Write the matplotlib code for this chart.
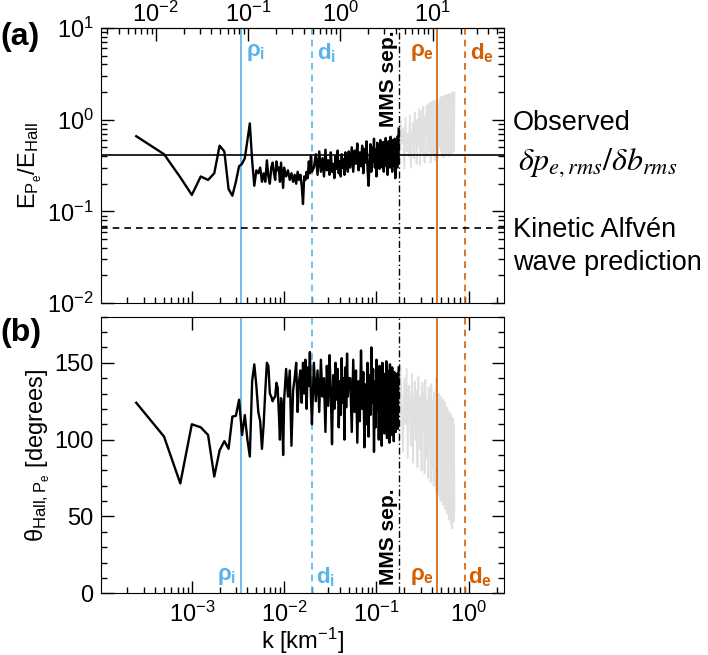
import matplotlib.pyplot as plt
import numpy as np
from matplotlib.ticker import MultipleLocator, FixedLocator

plt.rcParams['font.family'] = ['Liberation Sans', 'DejaVu Sans']
plt.rcParams['mathtext.fontset'] = 'custom'
plt.rcParams['mathtext.rm'] = 'Liberation Sans'
plt.rcParams['mathtext.it'] = 'Liberation Sans:italic'
plt.rcParams['mathtext.bf'] = 'Liberation Sans:bold'

# wavenumber bins, in units of 1e-3 km^-1 (black part, below MMS separation)
k_black_milli = [0.25, 0.5, 0.75, 1.0, 1.25, 1.5, 1.75, 2.0, 2.25, 2.5,
                 2.75, 3.0, 3.25, 3.5, 3.75, 4.0, 4.25, 4.5, 4.75, 5.0,
                 5.25, 5.5, 5.75, 6.0, 6.25, 6.5, 6.75, 7.0, 7.25, 7.5,
                 7.75, 8.0, 8.25, 8.5, 8.75, 9.0, 9.25, 9.5, 9.75, 10.0,
                 10.5, 11, 11.5, 12, 12.5, 13, 13.5, 14, 14.5, 15,
                 15.5, 16, 16.5, 17, 17.5, 18, 18.5, 19, 19.5, 20,
                 21, 22, 23, 24, 25, 26, 27, 28, 29, 30,
                 31, 32, 33, 34, 35, 36, 37, 38, 39, 40,
                 41, 42, 43, 44, 45, 46, 47, 48, 49, 50,
                 52, 54, 56, 58, 60, 62, 64, 66, 68, 70,
                 72, 74, 76, 78, 80, 82, 84, 86, 88, 90,
                 92, 94, 96, 98, 100, 102, 104, 106, 108, 110,
                 112, 114, 116, 118, 120, 122, 124, 126, 128, 130,
                 132, 134, 136, 138, 140, 142, 144, 146, 148, 150,
                 152, 154, 156, 158, 160, 162, 164, 166, 168, 170,
                 172, 174]
# grey part, above MMS separation
k_gray_milli = [176, 182, 188, 194, 200, 206, 212, 218, 224, 230,
                236, 242, 248, 254, 260, 266, 272, 278, 284, 290,
                296, 302, 308, 314, 320, 326, 332, 338, 344, 350,
                356, 362, 368, 374, 380, 386, 392, 398, 404, 410,
                416, 422, 428, 434, 440, 446, 452, 458, 464, 470,
                476, 482, 488, 494, 500, 506, 512, 518, 524, 530,
                536, 542, 548, 554, 560, 566, 572, 578, 584, 590,
                596, 602, 608, 614, 620, 626, 632, 638, 644, 650,
                656, 662, 668, 674, 680, 686, 692, 698]

# (a) E_Pe / E_Hall
ratio_black = [0.66, 0.42, 0.235, 0.151, 0.24, 0.22, 0.26, 0.52, 0.45, 0.175,
               0.148, 0.21, 0.31, 0.33, 0.38, 0.60, 0.91, 0.36, 0.19, 0.28,
               0.26, 0.30, 0.21, 0.26, 0.21, 0.36, 0.24, 0.20, 0.30, 0.34,
               0.26, 0.22, 0.35, 0.28, 0.30, 0.21, 0.34, 0.25, 0.18, 0.30,
               0.24, 0.28, 0.22, 0.26, 0.21, 0.25, 0.20, 0.27, 0.22, 0.25,
               0.19, 0.12, 0.24, 0.22, 0.27, 0.23, 0.35, 0.26, 0.40, 0.27,
               0.30, 0.42, 0.25, 0.45, 0.27, 0.38, 0.24, 0.47, 0.28, 0.36,
               0.25, 0.44, 0.27, 0.33, 0.23, 0.40, 0.29, 0.46, 0.26, 0.35,
               0.24, 0.42, 0.30, 0.37, 0.25, 0.44, 0.29, 0.39, 0.27, 0.45,
               0.30, 0.50, 0.27, 0.46, 0.33, 0.55, 0.28, 0.44, 0.31, 0.52,
               0.26, 0.48, 0.34, 0.58, 0.29, 0.19, 0.32, 0.54, 0.27, 0.50,
               0.35, 0.62, 0.30, 0.47, 0.24, 0.56, 0.33, 0.49, 0.29, 0.60,
               0.36, 0.52, 0.30, 0.57, 0.27, 0.50, 0.34, 0.63, 0.31, 0.48,
               0.25, 0.58, 0.35, 0.53, 0.30, 0.65, 0.33, 0.49, 0.27, 0.60,
               0.36, 0.55, 0.31, 0.62, 0.23, 0.52, 0.34, 0.58, 0.30, 0.66,
               0.33, 0.80]
ratio_gray = [0.33, 0.95, 0.55, 0.80, 0.29, 1.05, 0.45, 0.70, 0.40, 1.12,
              0.30, 0.62, 0.92, 0.38, 1.20, 0.75, 0.33, 1.00, 0.52, 1.30,
              0.32, 0.85, 1.25, 0.44, 1.38, 0.60, 0.34, 1.10, 0.90, 1.42,
              0.40, 0.70, 1.50, 0.46, 1.05, 0.34, 1.55, 0.80, 0.42, 1.35,
              1.62, 0.55, 0.36, 1.20, 1.58, 0.44, 1.70, 0.95, 0.38, 1.45,
              0.50, 1.65, 0.75, 1.75, 0.45, 1.30, 0.40, 1.78, 0.60, 1.60,
              0.39, 1.82, 1.10, 0.47, 1.68, 0.41, 1.85, 0.85, 1.62, 0.42,
              1.90, 0.65, 1.70, 0.40, 1.88, 1.20, 0.53, 1.75, 0.43, 1.95,
              0.70, 1.80, 0.44, 2.00, 0.95, 1.85, 0.46, 1.98]

# (b) angle between Hall and Pe fields [degrees]
theta_black = [124, 102, 71.5, 110, 108, 103, 76, 93, 99, 94,
               115, 115.5, 126, 103, 116, 100, 89, 138, 149, 135,
               118, 112, 94, 110, 132, 150, 148, 130, 128, 125,
               127, 128, 137, 134, 118, 100, 127, 122, 90, 126,
               146, 128, 145, 96, 132, 140, 150, 118, 138, 145,
               124, 150, 130, 152, 120, 147, 135, 157, 128, 110,
               150, 125, 145, 118, 152, 128, 140, 105, 148, 122,
               155, 130, 97, 142, 120, 150, 126, 146, 108, 138,
               116, 153, 124, 140, 100, 147, 121, 156, 128, 140,
               140, 105, 152, 118, 145, 98, 138, 112, 158, 120,
               144, 95, 136, 110, 150, 102, 142, 116, 160, 124,
               146, 92, 138, 108, 152, 119, 141, 100, 148, 113,
               137, 96, 150, 122, 143, 104, 139, 115, 151, 101,
               145, 118, 136, 98, 149, 111, 140, 103, 147, 120,
               138, 99, 144, 114, 141, 105, 137, 110, 143, 107,
               135, 147]
theta_gray = [98, 148, 120, 92, 140, 110, 146, 88, 135, 125,
              96, 143, 85, 118, 138, 100, 132, 82, 141, 112,
              94, 128, 80, 137, 105, 130, 78, 139, 115, 88,
              126, 75, 134, 100, 122, 72, 136, 110, 82, 125,
              70, 131, 95, 120, 66, 140, 105, 76, 124, 64,
              130, 90, 118, 60, 128, 100, 70, 115, 58, 126,
              85, 112, 55, 124, 95, 66, 110, 52, 121, 80,
              64, 108, 48, 118, 90, 62, 105, 45, 116, 75,
              104, 42, 114, 58, 102, 47, 110, 52]

ratio_observed = 0.412
ratio_kaw = 0.0655

# characteristic scales [km^-1]
k_rho_i = 3.39e-3
k_d_i = 0.0202
k_mms = 0.175
k_rho_e = 0.455
k_d_e = 0.905
top_factor = 24.6   # top axis = k * top_factor
k_min, k_max = 1.03e-4, 2.42

blue = '#56B4E9'
orange = '#D55E00'
grey = '#e0e0e0'
fs = 17

k_black = np.array(k_black_milli) * 1e-3
k_gray = np.array(k_gray_milli) * 1e-3

fig = plt.figure(figsize=(7.08, 6.55), dpi=100)
ax1 = fig.add_axes([0.1422, 0.5374, 0.570, 0.4199])
ax2 = fig.add_axes([0.1422, 0.0942, 0.570, 0.4223])

for ax in (ax1, ax2):
    ax.set_xscale('log')
    ax.set_xlim(k_min, k_max)
    ax.tick_params(which='both', direction='in', right=True, labelsize=fs)
    ax.tick_params(which='major', length=9, width=1)
    ax.tick_params(which='minor', length=4.5, width=1)
    ax.tick_params(axis='y', pad=5)
    ax.tick_params(axis='x', pad=6)
    ax.axvline(k_rho_i, color=blue, lw=1.2)
    ax.axvline(k_d_i, color=blue, lw=1.2, ls=(0, (4, 3)))
    ax.axvline(k_mms, color='black', lw=1.0, ls=(0, (5, 2, 1, 2)))
    ax.axvline(k_rho_e, color=orange, lw=1.2)
    ax.axvline(k_d_e, color=orange, lw=1.2, ls=(0, (4, 3)))

# panel (a)
ax1.plot(k_gray, ratio_gray, color=grey, lw=1.3, zorder=1)
ax1.axhline(ratio_observed, color='black', lw=1.2, zorder=2)
ax1.axhline(ratio_kaw, color='black', lw=1.2, ls=(0, (4, 3)), zorder=2)
ax1.plot(k_black, ratio_black, color='black', lw=1.7, zorder=3)
ax1.set_yscale('log')
ax1.set_ylim(1e-2, 1e1)
ax1.tick_params(labelbottom=False, top=False)
ax1.set_ylabel(r'$\mathrm{E_{P_e}/E_{Hall}}$', fontsize=fs, labelpad=2)

# top axis: only ticks that fall inside the panel
t_lo, t_hi = k_min * top_factor, k_max * top_factor
top_major = [t for t in [1e-3, 1e-2, 1e-1, 1e0, 1e1, 1e2] if t_lo <= t <= t_hi]
top_minor = [m * 10.0 ** e for e in range(-3, 2) for m in range(2, 10)
             if t_lo <= m * 10.0 ** e <= t_hi]
sec = ax1.secondary_xaxis('top', functions=(lambda k: k * top_factor,
                                             lambda t: t / top_factor))
sec.xaxis.set_major_locator(FixedLocator(top_major))
sec.xaxis.set_minor_locator(FixedLocator(top_minor))
sec.tick_params(which='both', direction='in', labelsize=fs, pad=1)
sec.tick_params(which='major', length=9, width=1)
sec.tick_params(which='minor', length=4.5, width=1)

# panel (b)
ax2.plot(k_gray, theta_gray, color=grey, lw=1.3, zorder=1)
ax2.plot(k_black, theta_black, color='black', lw=1.7, zorder=3)
ax2.set_ylim(0, 180)
ax2.set_yticks([0, 50, 100, 150])
ax2.yaxis.set_minor_locator(MultipleLocator(10))
ax2.tick_params(top=True)
ax2.set_ylabel(r'$\mathrm{\theta_{Hall,P_e}}$ [degrees]', fontsize=fs, labelpad=2)
ax2.set_xlabel(r'k [km$^{-1}$]', fontsize=fs)
ax2.xaxis.set_label_coords(0.5, -0.118)

# scale labels
lab = dict(xycoords=('data', 'axes fraction'), textcoords='offset pixels',
           fontsize=16, fontweight='bold', va='center')
ax1.annotate(r'ρ$_\mathbf{i}$', (k_rho_i, 0.91), (5, 0), color=blue, ha='left', **lab)
ax1.annotate(r'd$_\mathbf{i}$', (k_d_i, 0.91), (5, 0), color=blue, ha='left', **lab)
ax1.annotate(r'ρ$_\mathbf{e}$', (k_rho_e, 0.91), (-3, 0), color=orange, ha='right', **lab)
ax1.annotate(r'd$_\mathbf{e}$', (k_d_e, 0.91), (5, 0), color=orange, ha='left', **lab)
ax2.annotate(r'ρ$_\mathbf{i}$', (k_rho_i, 0.06), (-5, 0), color=blue, ha='right', **lab)
ax2.annotate(r'd$_\mathbf{i}$', (k_d_i, 0.06), (4, 0), color=blue, ha='left', **lab)
ax2.annotate(r'ρ$_\mathbf{e}$', (k_rho_e, 0.06), (-3, 0), color=orange, ha='right', **lab)
ax2.annotate(r'd$_\mathbf{e}$', (k_d_e, 0.06), (3, 0), color=orange, ha='left', **lab)

ax1.annotate('MMS sep.', (k_mms, 1.0), (-1, -3), xycoords=('data', 'axes fraction'),
             textcoords='offset pixels', rotation=90, fontsize=15, fontweight='bold',
             ha='right', va='top')
ax2.annotate('MMS sep.', (k_mms, 0.0), (-1, 8), xycoords=('data', 'axes fraction'),
             textcoords='offset pixels', rotation=90, fontsize=15, fontweight='bold',
             ha='right', va='bottom')

# right-hand annotations
fig.text(0.7246, 0.8122, 'Observed', fontsize=19.5, va='center')
fig.text(0.7316, 0.7511, r'$\delta p_{e,rms}/\delta b_{rms}$', fontsize=23,
         va='center', math_fontfamily='stix')
fig.text(0.7246, 0.6489, 'Kinetic Alfvén', fontsize=19.5, va='center')
fig.text(0.7246, 0.5985, 'wave prediction', fontsize=19.5, va='center')

fig.text(0.0, 0.9435, '(a)', fontsize=23, fontweight='bold', va='center')
fig.text(0.0, 0.4916, '(b)', fontsize=23, fontweight='bold', va='center')

fig.savefig('out.png', dpi=100)
